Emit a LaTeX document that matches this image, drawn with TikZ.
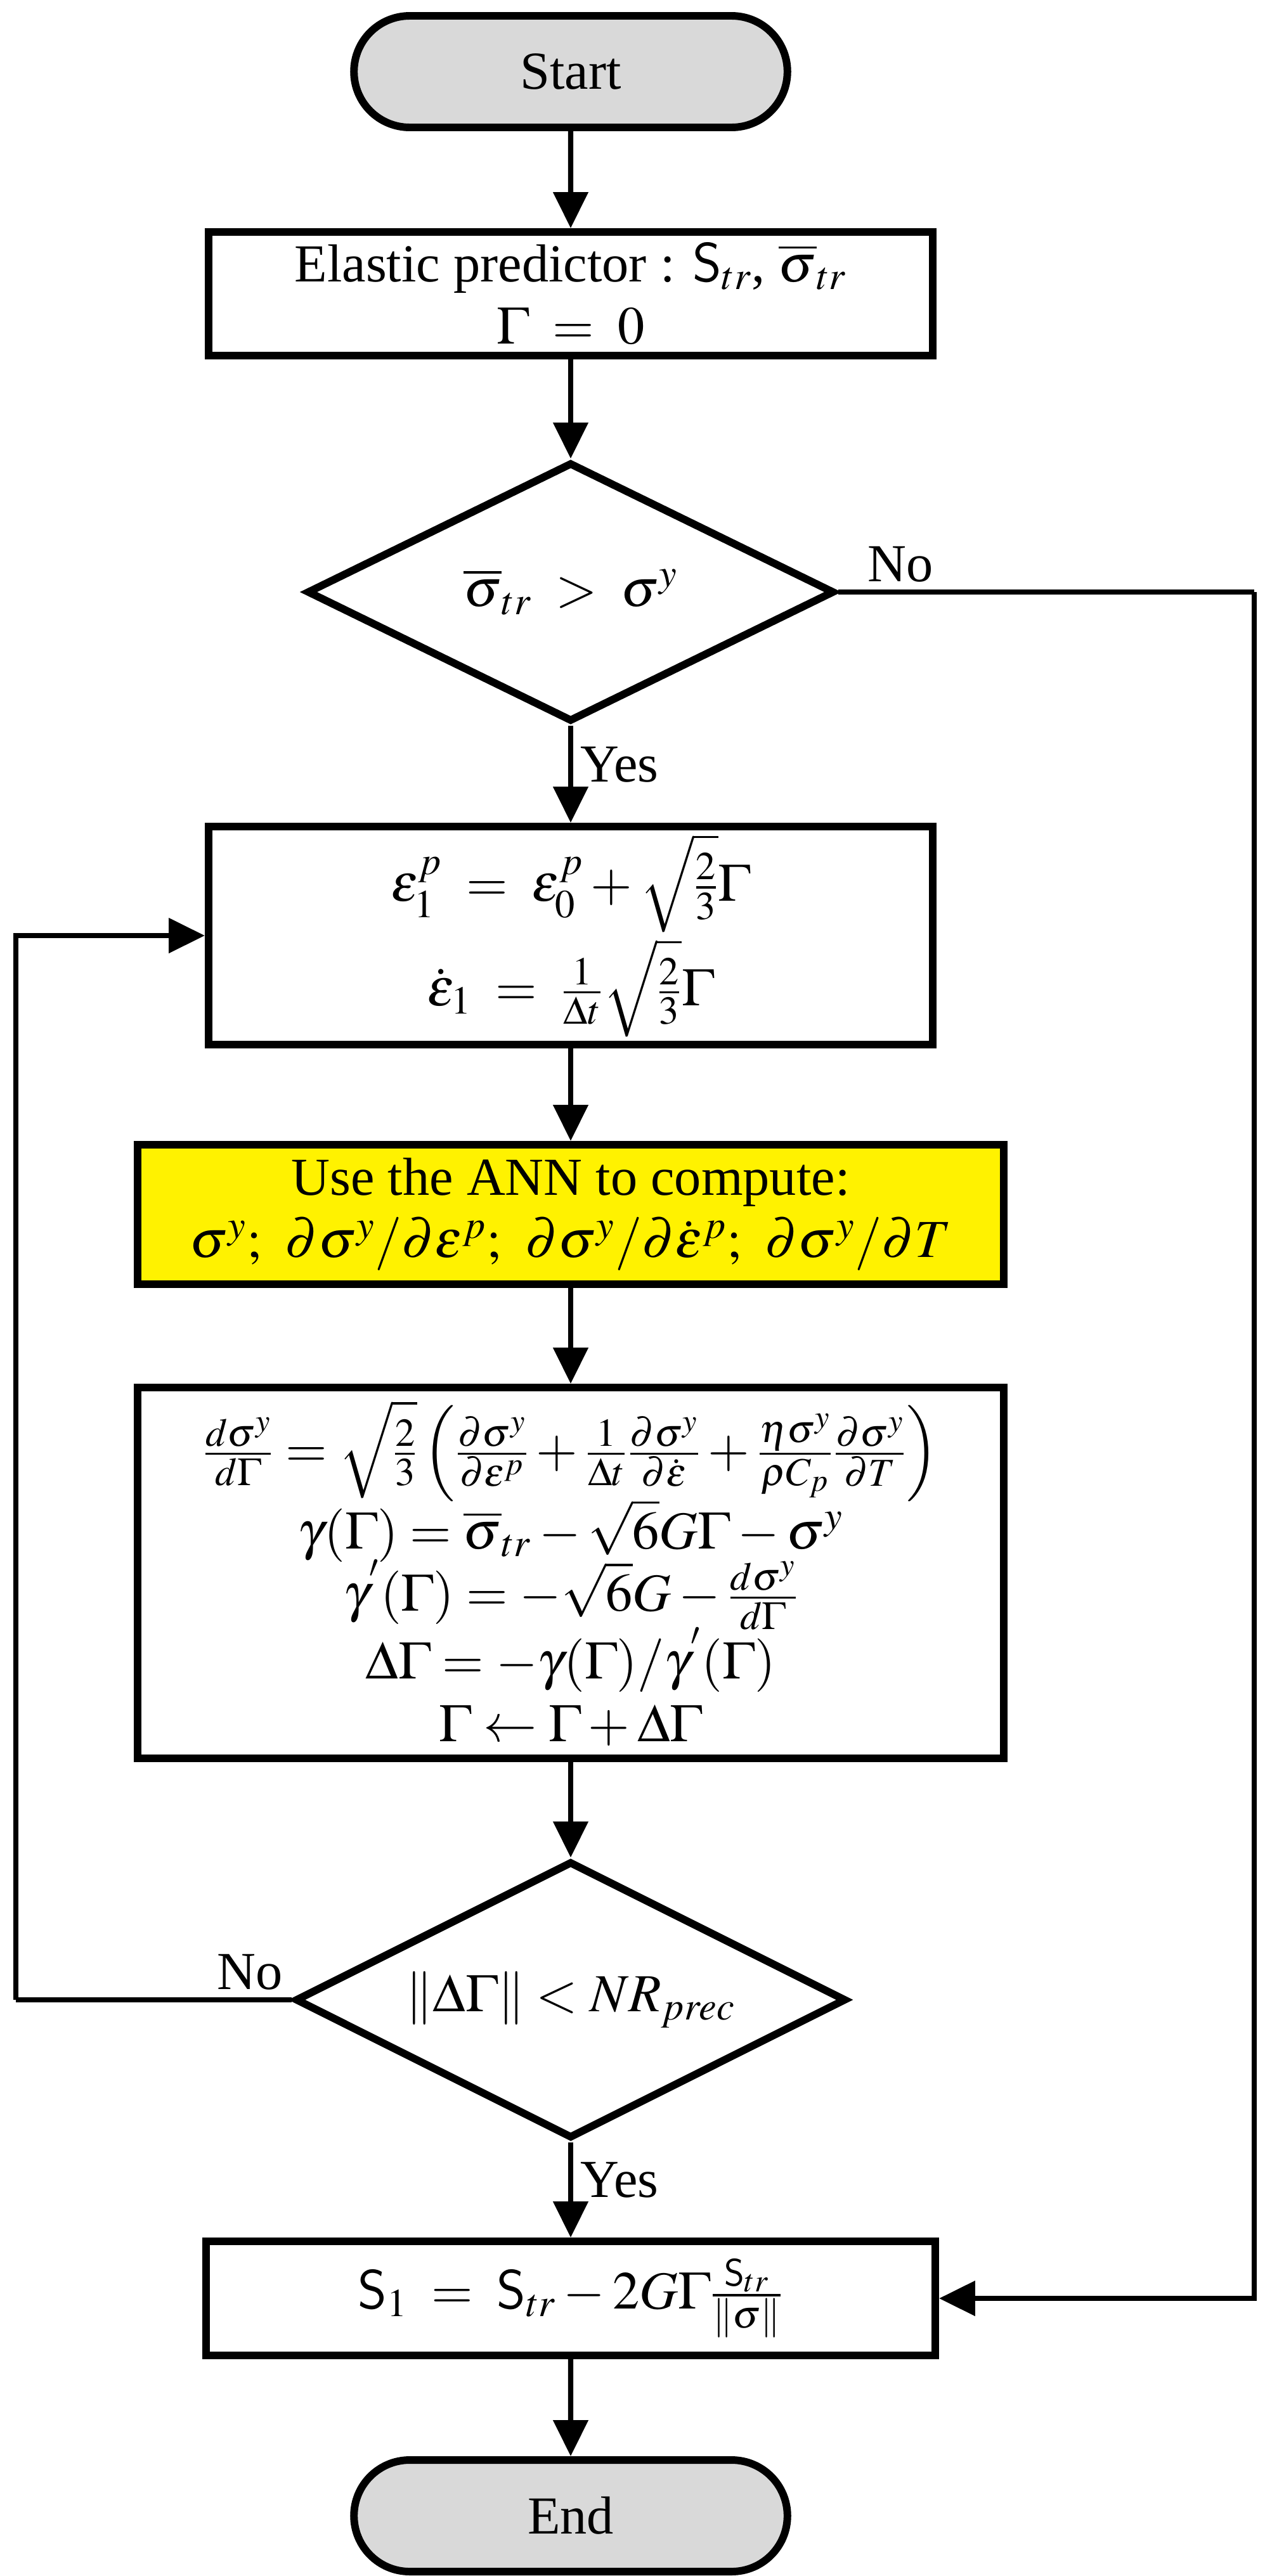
\documentclass[tikz,border=0pt]{standalone}
\usepackage{amsmath}
\usepackage{amssymb}
\usepackage{mathptmx}
\usepackage{fontspec}
\setmainfont{Liberation Serif}
\usepackage{tikz}
\usetikzlibrary{arrows.meta,positioning,calc,shapes.geometric,shapes.misc}
\definecolor{anncolor}{RGB}{255,242,0}
\definecolor{termcolor}{RGB}{217,217,217}

\begin{document}
\begin{tikzpicture}[->, >={Triangle[length=5.7mm,width=5.4mm]}, line width=2.3pt,
    font=\fontsize{24}{30}\selectfont]
        \tikzstyle{term}=[rounded rectangle, draw=black, line width=3.4pt, fill=termcolor, minimum width=7.07cm, minimum height=1.76cm]
        \tikzstyle{proc}=[rectangle, draw=black, line width=3.4pt, fill=white, align=center, minimum width=11.42cm]
        \tikzstyle{decide}=[diamond, aspect=2, draw=black, line width=3.4pt, fill=white, inner sep=0pt]
        \useasboundingbox (0,0) rectangle (19.95,-40.64);
        \node[term]    (start) at (9.00,-1.13)   {Start};
        \node[proc, minimum height=1.95cm]    (pred) at (9.00,-4.635)
            {Elastic predictor : $\mathsf{S}_{tr}$, $\overline{\sigma}_{tr}$\\[-2pt] $\Gamma\;=\;0$};
        \node[decide, minimum width=8.32cm, minimum height=4.09cm]    (check) at (9.00,-9.34)
            {$\overline{\sigma}_{tr}\;>\;\sigma^y$};
        \node[proc, minimum height=3.40cm]    (strain) at (9.00,-14.76)
            {$\varepsilon^p_1\;=\;\varepsilon^p_0+\sqrt{\tfrac{2}{3}}\Gamma$\\[2pt]
             $\dot{\varepsilon}_1\;=\;\tfrac{1}{\Delta t}\sqrt{\tfrac{2}{3}}\Gamma$};
        \node[proc, fill=anncolor, minimum width=13.66cm, minimum height=2.20cm]    (ann) at (9.00,-19.16)
            {Use the ANN to compute:\\[-2pt]
             $\sigma^y;\;\,\partial\sigma^y/\partial\varepsilon^p;\;\,\partial\sigma^y/\partial\dot{\varepsilon}^p;\;\,\partial\sigma^y/\partial T$};
        \node[proc, minimum width=13.66cm, minimum height=5.85cm]    (newton) at (9.00,-24.815)
            {$\frac{d\sigma^y}{d\Gamma}=\sqrt{\frac{2}{3}}\left(\frac{\partial\sigma^y}{\partial\varepsilon^p}+\frac{1}{\Delta t}\frac{\partial\sigma^y}{\partial\dot{\varepsilon}}+\frac{\eta\sigma^y}{\rho C_p}\frac{\partial\sigma^y}{\partial T}\right)$\\[-2pt]
             $\gamma(\Gamma)=\overline{\sigma}_{tr}-\sqrt{6}G\Gamma-\sigma^y$\\[-2pt]
             $\gamma^{'}(\Gamma)=-\sqrt{6}G-\frac{d\sigma^y}{d\Gamma}$\\[-2pt]
             $\Delta\Gamma=-\gamma(\Gamma)/\gamma^{'}(\Gamma)$\\[-2pt]
             $\Gamma\leftarrow\Gamma+\Delta\Gamma$};
        \node[decide, minimum width=8.69cm, minimum height=4.37cm]    (conv) at (9.00,-31.55)
            {$\|\Delta\Gamma\|<NR_{prec}$};
        \node[proc, minimum width=11.5cm, minimum height=1.80cm]    (update) at (9.00,-36.26)
            {$\mathsf{S}_1\;=\;\mathsf{S}_{tr}-2G\Gamma\frac{\mathsf{S}_{tr}}{\|\sigma\|}$};
        \node[term]    (end) at (9.00,-39.69)   {End};
        \coordinate (rightturn) at (19.78,-9.34);
        \coordinate (leftturn) at (0.25,-31.55);

        \draw (start) -- (pred);
        \draw (pred) -- (check);
        \draw (check) -- node[right, pos=0.4]{Yes} (strain);
        \draw (strain) -- (ann);
        \draw (ann) -- (newton);
        \draw (newton) -- (conv);
        \draw (conv) -- node[right, pos=0.4]{Yes} (update);
        \draw (update) -- (end);
        \draw[-] (check.east) -- node[above, pos=0.15]{No} (rightturn);
        \draw (rightturn) |- (update.east);
        \draw[-] (conv.west) -- node[above, pos=0.15]{No} (leftturn);
        \draw (leftturn) |- (strain.west);
    \end{tikzpicture}
\end{document}
